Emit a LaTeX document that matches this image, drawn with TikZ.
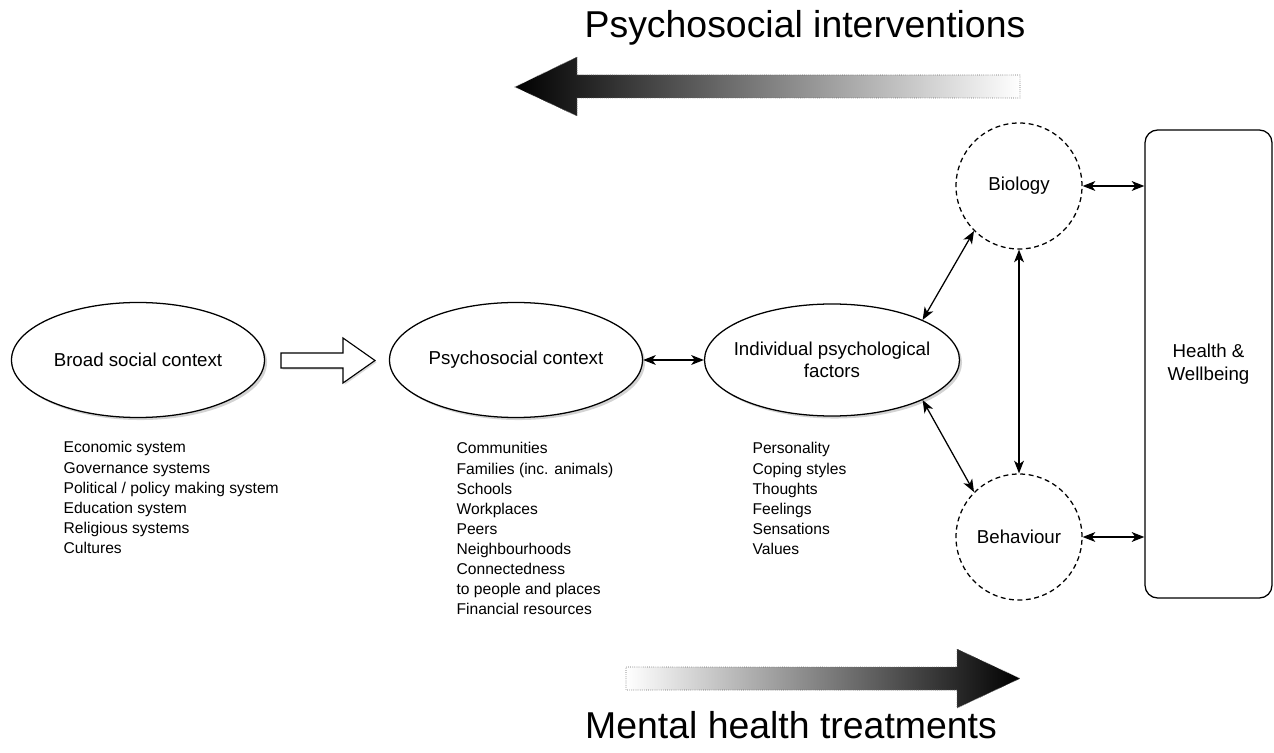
\documentclass[tikz,border=0pt]{standalone}
\usepackage{fontspec}
\setmainfont{Liberation Sans}
\usetikzlibrary{arrows.meta,shapes.geometric,shadows}
\newcommand{\pxu}{0.025cm}

\begin{document}
\begin{tikzpicture}[x=\pxu,y=-\pxu,>={Stealth[length=9pt,width=7pt,inset=2.5pt]},line width=0.9pt,
  oval node/.style={ellipse,draw,fill=white,inner sep=0pt,minimum width=253*\pxu,minimum height=115*\pxu,
    drop shadow={shadow xshift=1.8pt,shadow yshift=-1.8pt,opacity=0.35},font=\fontsize{13.3}{16}\selectfont},
  dash node/.style={circle,draw,dash pattern=on 3.5pt off 2.5pt,fill=white,inner sep=0pt,
    minimum size=126*\pxu,font=\fontsize{13.3}{16}\selectfont},
  box node/.style={rectangle,rounded corners=9pt,draw,fill=white,minimum width=127*\pxu,
    minimum height=468*\pxu,align=center,font=\fontsize{13.3}{16}\selectfont},
  list node/.style={anchor=north west,align=left,inner sep=0pt,font=\fontsize{11.1}{14.3}\selectfont},
  title node/.style={anchor=base,inner sep=0pt,font=\fontsize{26.6}{30}\selectfont}]

  \useasboundingbox (0,0) rectangle (1274,753);

  % titles and shaded arrows
  \node[title node] (pit) at (805,38) {Psychosocial interventions};
  \node[title node] (mht) at (791,738) {Mental health treatments};
  \shade[left color=black,right color=white,draw=black!60,densely dotted,line width=0.5pt]
    (1020,75) -- (577,75) -- (577,57) -- (515,87) -- (577,116) -- (577,98) -- (1020,98) -- cycle;
  \shade[left color=white,right color=black,draw=black!60,densely dotted,line width=0.5pt]
    (626,667) -- (957,667) -- (957,649) -- (1020,678.5) -- (957,708) -- (957,690) -- (626,690) -- cycle;

  % main nodes
  \node[oval node] (bsc) at (138,360) {Broad social context};
  \node[oval node] (psy) at (516,360) {Psychosocial context};
  \node[oval node,minimum width=255*\pxu,minimum height=112*\pxu,
    label={[align=center,font=\fontsize{13.3}{16}\selectfont]center:Individual psychological\\factors}] (ind) at (832,360) {};
  \node[dash node] (bio) at (1019,186) {Biology};
  \node[dash node] (beh) at (1019,537) {Behaviour};
  \node[box node] (hw) at (1208.5,364) {Health \&\\Wellbeing};

  % hollow arrow
  \draw[fill=white,line width=0.8pt,drop shadow={shadow xshift=1.2pt,shadow yshift=-1.2pt,opacity=0.3}]
    (281,353) -- (343,353) -- (343,338) -- (375,360.5) -- (343,383) -- (343,368) -- (281,368) -- cycle;

  \path[<->]
    (psy) edge (ind)
    (ind.north east) edge (bio.south west)
    (ind.south east) edge (beh.north west)
    (bio) edge (beh)
    (bio.east) edge (bio.east -| hw.west)
    (beh.east) edge (beh.east -| hw.west)
    ;

  % lists
  \node[list node] (bscl) at (63,441) {Economic system\\Governance systems\\Political / policy making system\\Education system\\Religious systems\\Cultures};
  \node[list node] (psyl) at (456,442) {Communities\\Families (inc. animals)\\Schools\\Workplaces\\Peers\\Neighbourhoods\\Connectedness\\to people and places\\Financial resources};
  \node[list node] (indl) at (752,442) {Personality\\Coping styles\\Thoughts\\Feelings\\Sensations\\Values};

\end{tikzpicture}
\end{document}
